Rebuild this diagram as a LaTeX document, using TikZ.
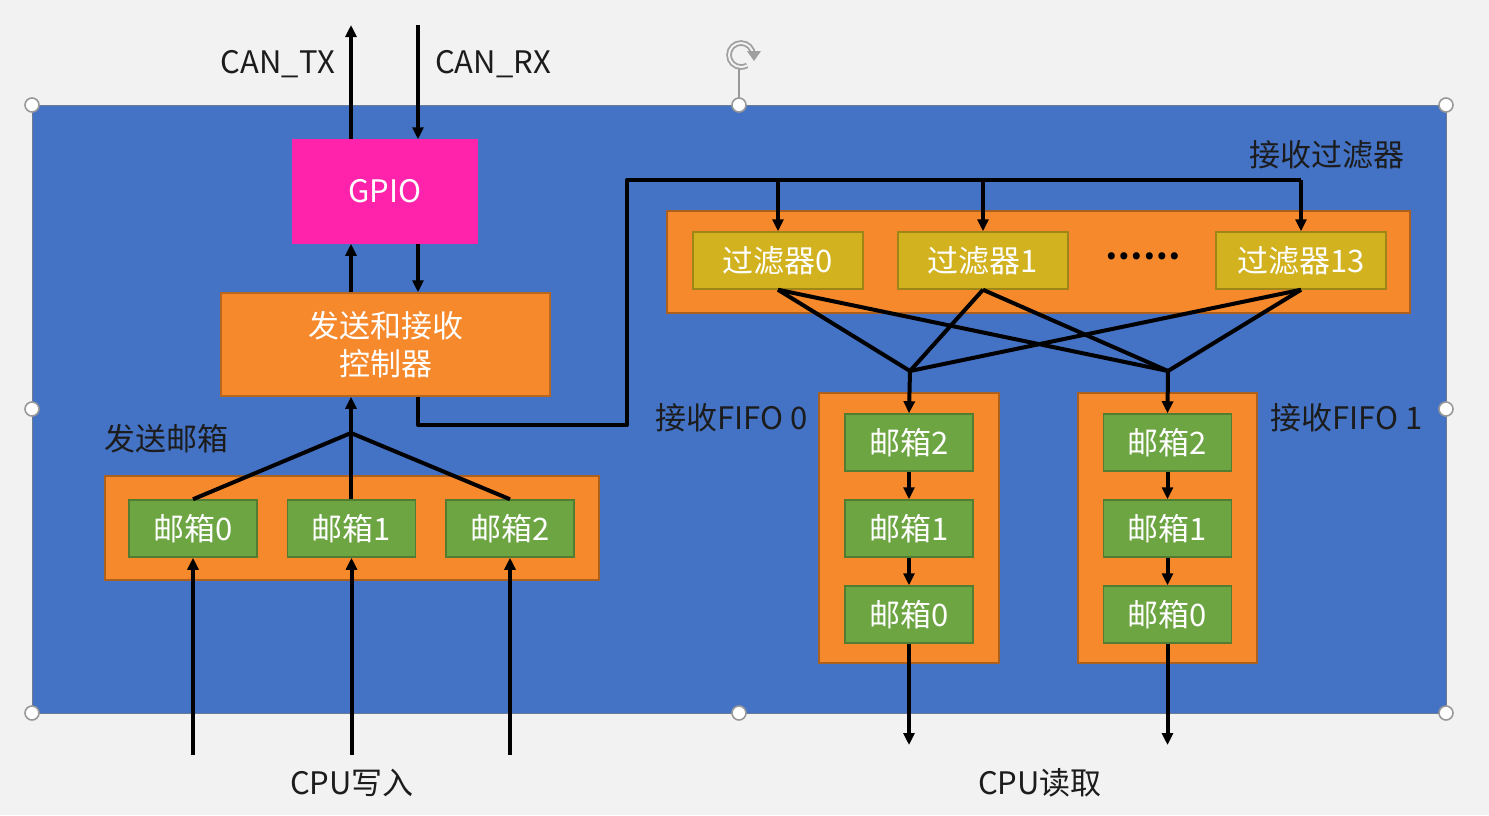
\documentclass[tikz,border=0pt]{standalone}
\usepackage{fontspec}
\setmainfont{Noto Sans CJK SC}
\usepackage{tikz}
\usetikzlibrary{arrows.meta,positioning}
\definecolor{bgcol}{HTML}{F2F2F2}
\definecolor{blue1}{HTML}{4472C4}
\definecolor{orange1}{HTML}{F5892C}
\definecolor{green1}{HTML}{6CA542}
\definecolor{gold1}{HTML}{D2B21F}
\definecolor{pink1}{HTML}{FF22AA}
\definecolor{txtdark}{HTML}{1C1C1C}

\begin{document}
\begin{tikzpicture}[x=1pt,y=-1pt,
box/.style={draw=#1!75!black,line width=1.5pt,fill=#1,text=white,inner sep=0pt,
  font=\fontsize{31}{38}\selectfont,align=center},
mbox/.style={box=green1,minimum width=128pt,minimum height=57pt},
fbox/.style={box=gold1,minimum width=170pt,minimum height=57pt},
grp/.style={draw=orange1!70!black,line width=1.2pt,fill=orange1},
lbl/.style={text=txtdark,inner sep=0pt,font=\fontsize{31}{38}\selectfont},
wire/.style={line width=4pt,line join=round},
>={Triangle[length=12pt,width=11pt]},
handle/.style={circle,draw=gray!80,fill=white,line width=1.6pt,minimum size=14pt,inner sep=0pt}]
% page and frame
\fill[bgcol] (0,0) rectangle (1489,815);
\fill[blue1] (32,105) rectangle (1446,713);
\draw[gray!70!blue1,line width=1pt] (32,105) rectangle (1446,713);
% gpio and controller
\node[box=pink1,minimum width=184pt,minimum height=103pt,draw=pink1] (gpio) at (385,191.5) {GPIO};
\node[box=orange1,minimum width=329pt,minimum height=103pt] (ctrl) at (385.5,344.5) {发送和接收\\控制器};
\coordinate (txtop) at (351,25);
\coordinate (rxtop) at (418,25);
\node[lbl,anchor=east] (cantx) at (335,64) {CAN\_TX};
\node[lbl,anchor=west] (canrx) at (435,64) {CAN\_RX};
\draw[wire,->] (gpio.north -| txtop) -- (txtop);
\draw[wire,->] (rxtop) -- (gpio.north -| rxtop);
\draw[wire,->] (ctrl.north -| txtop) -- (gpio.south -| txtop);
\draw[wire,->] (gpio.south -| rxtop) -- (ctrl.north -| rxtop);
% send mailboxes
\draw[grp] (105,476) rectangle (599,580);
\node[lbl,anchor=west] (sendlbl) at (104,439) {发送邮箱};
\node[mbox] (tx0) at (193,528.5) {邮箱0};
\node[mbox] (tx1) at (351.5,528.5) {邮箱1};
\node[mbox] (tx2) at (510,528.5) {邮箱2};
\coordinate (js) at (351,433);
\draw[wire] (tx0.north) -- (js) -- (tx2.north);
\draw[wire] (tx1.north -| js) -- (js);
\draw[wire,->] (js) -- (ctrl.south -| js);
\foreach \i in {0,1,2}
  \draw[wire,->] (tx\i.south |- 0,755) -- (tx\i.south);
\node[lbl] (cpuw) at (352,783) {CPU写入};
% receive filters
\draw[grp] (667,211) rectangle (1410,313);
\node[lbl,anchor=east] (fltlbl) at (1405,155) {接收过滤器};
\node[fbox] (fl0) at (778,260.5) {过滤器0};
\node[fbox] (fl1) at (983,260.5) {过滤器1};
\node[fbox] (fl13) at (1301,260.5) {过滤器13};
\node[text=black,font=\fontsize{33}{33}\bfseries,inner sep=0pt] (dots) at (1143,256) {……};
\coordinate (bus) at (627,180);
\draw[wire] (ctrl.south -| rxtop) |- (627,425) -- (bus) -- (fl13.north |- bus);
\foreach \f in {fl0,fl1,fl13}
  \draw[wire,->] (\f.north |- bus) -- (\f.north);
% receive fifos
\draw[grp] (819,393) rectangle (999,663);
\draw[grp] (1078,393) rectangle (1257,663);
\node[lbl,anchor=east] (fifo0lbl) at (808,418) {接收FIFO 0};
\node[lbl,anchor=west] (fifo1lbl) at (1270,418) {接收FIFO 1};
\foreach \n/\x in {a/909,b/1167.5}{
  \node[mbox] (\n2) at (\x,442.5) {邮箱2};
  \node[mbox] (\n1) at (\x,528.5) {邮箱1};
  \node[mbox] (\n0) at (\x,614.5) {邮箱0};
  \draw[wire,->] (\n2) -- (\n1);
  \draw[wire,->] (\n1) -- (\n0);
  \draw[wire,->] (\n0.south) -- (\n0.south |- 0,745);
}
\coordinate (j0) at (910,371);
\coordinate (j1) at (1168,371);
\foreach \f in {fl0,fl1,fl13}{
  \draw[wire] (\f.south) -- (j0);
  \draw[wire] (\f.south) -- (j1);
}
\draw[wire,->] (j0) -- (a2.north);
\draw[wire,->] (j1) -- (b2.north);
\node[lbl] (cpur) at (1040,783) {CPU读取};
% selection handles
\draw[gray!80,line width=1.2pt] (739,68) -- (739,105);
\draw[gray!75,line width=1.8pt,double=bgcol,double distance=2pt]
  (753,55) arc (0:-300:12);
\fill[gray!75] (747,51) -- (761,51) -- (754,61) -- cycle;
\foreach \p in {(32,105),(739,105),(1446,105),(32,409),(1446,409),(32,713),(739,713),(1446,713)}
  \node[handle] at \p {};
\end{tikzpicture}
\end{document}
